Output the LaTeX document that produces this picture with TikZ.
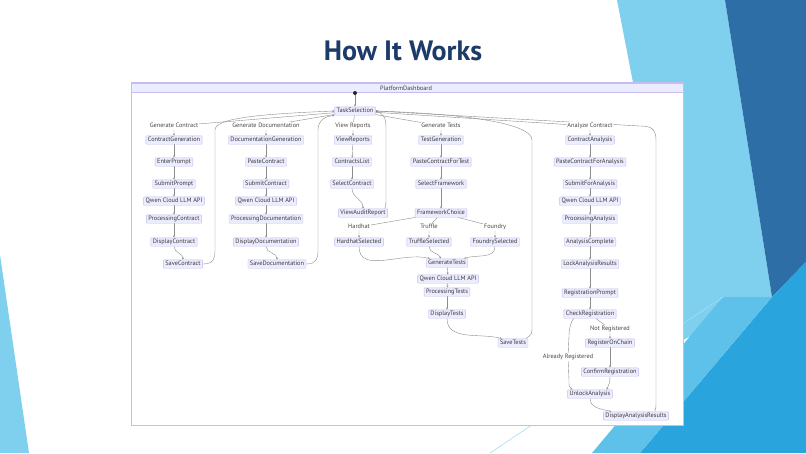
\documentclass[tikz,border=0pt]{standalone}
\usepackage{fontspec}
\setmainfont{PT Sans}
\usetikzlibrary{arrows.meta}

\definecolor{nodefill}{HTML}{ECECFF}
\definecolor{nodeline}{HTML}{C6BCEE}
\definecolor{edgegray}{HTML}{8C8C8C}
\definecolor{titleblue}{HTML}{1D3B68}
\definecolor{skylight}{HTML}{7FD0EE}
\definecolor{skydeep}{HTML}{2E6EA6}
\definecolor{skymid}{HTML}{29A4DC}
\definecolor{skypale}{HTML}{5DC1EA}

\pgfdeclarelayer{deco}
\pgfdeclarelayer{wires}
\pgfsetlayers{deco,wires,main}

\tikzset{
  state/.style={draw=nodeline, fill=nodefill, line width=0.4pt, rounded corners=0.6pt,
    inner xsep=2pt, inner ysep=1.4pt, text height=4.4pt, text depth=1.2pt,
    font=\fontsize{6.3}{7}\selectfont, text=black!78},
  edgelabel/.style={fill=white, inner sep=0.8pt, text height=4.4pt, text depth=1.2pt,
    font=\fontsize{6.3}{7}\selectfont, text=black!72},
  flow/.style={draw=edgegray, line width=0.4pt, -{Stealth[length=2.2pt,width=2pt]}},
}

\begin{document}
\begin{tikzpicture}[x=1pt,y=-1pt]
\useasboundingbox (0,0) rectangle (806,453);

% slide background and the dashboard frame
\begin{pgfonlayer}{deco}
  \fill[white] (0,0) rectangle (806,453);
  \fill[skylight] (0,255) -- (29,453) -- (0,453) -- cycle;
  \fill[skylight] (617,0) -- (725,0) -- (772,297) -- (683,340) -- cycle;
  \fill[skydeep] (725,0) -- (806,0) -- (806,262) -- (772,297) -- cycle;
  \fill[skymid] (772,297) -- (806,262) -- (806,453) -- (640,453) -- cycle;
  \fill[skypale] (723,297) -- (772,297) -- (640,453) -- (592,453) -- cycle;
  \draw[skylight!70, line width=0.6pt] (723,297) -- (490,453);
  \draw[nodeline, fill=white, line width=0.8pt] (131,82) rectangle (683,425);
  \filldraw[draw=nodeline, fill=nodefill, line width=0.5pt] (131,83) rectangle (683,92);
\end{pgfonlayer}

\node[font=\fontsize{28}{32}\selectfont\bfseries, text=titleblue] (title) at (403,51) {How It Works};
\node[font=\fontsize{6.3}{7}\selectfont, text=black!75] (dash) at (406,88) {PlatformDashboard};

\node[circle, fill=black!85, inner sep=0pt, minimum size=4pt] (start) at (355,93) {};
\node[state] (taskSel) at (355,111) {TaskSelection};

% branch labels
\node[edgelabel] (lGenContract) at (174,126) {Generate Contract};
\node[edgelabel] (lGenDoc) at (266,126) {Generate Documentation};
\node[edgelabel] (lViewRep) at (353,126) {View Reports};
\node[edgelabel] (lGenTests) at (441,126) {Generate Tests};
\node[edgelabel] (lAnalyze) at (590,126) {Analyze Contract};

% generate contract
\node[state] (contractGen) at (174,140) {ContractGeneration};
\node[state] (enterPrompt) at (174,162) {EnterPrompt};
\node[state] (submitPrompt) at (174,184) {SubmitPrompt};
\node[state] (qwenC) at (174,201) {Qwen Cloud LLM API};
\node[state] (procContract) at (174,219) {ProcessingContract};
\node[state] (dispContract) at (174,242) {DisplayContract};
\node[state] (saveContract) at (183,264) {SaveContract};

% generate documentation
\node[state] (docGen) at (266,140) {DocumentationGeneration};
\node[state] (pasteContract) at (266,162) {PasteContract};
\node[state] (submitContract) at (266,184) {SubmitContract};
\node[state] (qwenD) at (266,201) {Qwen Cloud LLM API};
\node[state] (procDoc) at (266,219) {ProcessingDocumentation};
\node[state] (dispDoc) at (266,242) {DisplayDocumentation};
\node[state] (saveDoc) at (277,264) {SaveDocumentation};

% view reports
\node[state] (viewReports) at (353,140) {ViewReports};
\node[state] (contractsList) at (352,162) {ContractsList};
\node[state] (selectContract) at (352,184) {SelectContract};
\node[state] (viewAudit) at (363,213) {ViewAuditReport};

% generate tests
\node[state] (testGen) at (441,140) {TestGeneration};
\node[state] (pasteTest) at (441,162) {PasteContractForTest};
\node[state] (selectFw) at (441,184) {SelectFramework};
\node[state] (fwChoice) at (441,213) {FrameworkChoice};
\node[edgelabel] (lHardhat) at (359,227) {Hardhat};
\node[edgelabel] (lTruffle) at (429,227) {Truffle};
\node[edgelabel] (lFoundry) at (495,227) {Foundry};
\node[state] (hardhatSel) at (359,242) {HardhatSelected};
\node[state] (truffleSel) at (429,242) {TruffleSelected};
\node[state] (foundrySel) at (495,242) {FoundrySelected};
\node[state] (genTests) at (447,263) {GenerateTests};
\node[state] (qwenT) at (448,279) {Qwen Cloud LLM API};
\node[state] (procTests) at (447,292) {ProcessingTests};
\node[state] (dispTests) at (447,314) {DisplayTests};
\node[state] (saveTests) at (513,343) {SaveTests};

% analyze contract
\node[state] (contractAn) at (590,140) {ContractAnalysis};
\node[state] (pasteAn) at (590,162) {PasteContractForAnalysis};
\node[state] (submitAn) at (590,184) {SubmitForAnalysis};
\node[state] (qwenA) at (590,201) {Qwen Cloud LLM API};
\node[state] (procAn) at (590,219) {ProcessingAnalysis};
\node[state] (anComplete) at (590,242) {AnalysisComplete};
\node[state] (lockRes) at (590,264) {LockAnalysisResults};
\node[state] (regPrompt) at (590,293) {RegistrationPrompt};
\node[state] (checkReg) at (590,314) {CheckRegistration};
\node[edgelabel] (lNotReg) at (610,329) {Not Registered};
\node[state] (regChain) at (610,343) {RegisterOnChain};
\node[edgelabel] (lAlready) at (568,357) {Already Registered};
\node[state] (confirmReg) at (610,372) {ConfirmRegistration};
\node[state] (unlockAn) at (590,394) {UnlockAnalysis};
\node[state] (dispAn) at (636,416) {DisplayAnalysisResults};

\begin{pgfonlayer}{wires}
  % straight steps
  \foreach \a/\b in {start/taskSel,
      contractGen/enterPrompt, enterPrompt/submitPrompt, submitPrompt/qwenC, qwenC/procContract, procContract/dispContract,
      docGen/pasteContract, pasteContract/submitContract, submitContract/qwenD, qwenD/procDoc, procDoc/dispDoc,
      viewReports/contractsList, contractsList/selectContract,
      testGen/pasteTest, pasteTest/selectFw, selectFw/fwChoice,
      genTests/qwenT, qwenT/procTests, procTests/dispTests,
      contractAn/pasteAn, pasteAn/submitAn, submitAn/qwenA, qwenA/procAn, procAn/anComplete,
      anComplete/lockRes, lockRes/regPrompt, regPrompt/checkReg, regChain/confirmReg}
    \draw[flow] (\a) -- (\b);

  % labelled branches
  \foreach \l/\b in {lGenContract/contractGen, lGenDoc/docGen, lViewRep/viewReports, lGenTests/testGen, lAnalyze/contractAn}
    \draw[flow] (taskSel) -- (\l.center) -- (\b);
  \foreach \l/\b in {lHardhat/hardhatSel, lTruffle/truffleSel, lFoundry/foundrySel}
    \draw[flow] (fwChoice) -- (\l.center) -- (\b);
  \draw[flow] (checkReg) -- (lNotReg.center) -- (regChain);
  \draw[flow] ([xshift=10pt]checkReg.south west) .. controls (571,322) and (569,328) .. (569,336)
    -- (lAlready.center) -- (569,380) .. controls (569,387) .. ([xshift=5pt]unlockAn.north west);

  % bends
  \draw[flow] (dispContract.south) to[out=-90,in=90] (saveContract.north);
  \draw[flow] (dispDoc.south) to[out=-90,in=90] (saveDoc.north);
  \draw[flow] (selectContract.south) to[out=-90,in=90] (viewAudit.north);
  \draw[flow] (hardhatSel.south) to[out=-90,in=165] ([xshift=4pt]genTests.north west);
  \draw[flow] (truffleSel.south) to[out=-90,in=115] ([xshift=-6pt]genTests.north);
  \draw[flow] (foundrySel.south) to[out=-90,in=20] ([xshift=-4pt]genTests.north east);
  \draw[flow] (dispTests.south) to[out=-90,in=165] ([xshift=4pt]saveTests.north west);
  \draw[flow] (confirmReg.south) to[out=-90,in=60] ([xshift=-6pt]unlockAn.north east);
  \draw[flow] (unlockAn.south) to[out=-90,in=165] ([xshift=8pt]dispAn.north west);

  % back to the task selection
  \draw[flow] (saveContract.east) .. controls (214,264) and (215,258) .. (215,250)
    -- (215,130) .. controls (215,118) and (260,114) .. (taskSel.west);
  \draw[flow] (saveDoc.east) .. controls (317,264) and (318,258) .. (318,250)
    -- (318,130) .. controls (318,120) and (326,116) .. (taskSel.south west);
  \draw[flow] ([xshift=-3pt]viewAudit.north east) .. controls (386,205) .. (386,196)
    -- (386,128) .. controls (386,118) and (384,114) .. (taskSel.east);
  \draw[flow] ([xshift=-2pt]saveTests.north east) .. controls (532,334) .. (532,326)
    -- (532,140) .. controls (532,124) and (470,114) .. (taskSel.east);
  \draw[flow] ([xshift=-14pt]dispAn.north east) .. controls (656,408) .. (656,400)
    -- (656,140) .. controls (656,128) and (650,126) .. (640,126) -- (taskSel.east);
\end{pgfonlayer}
\end{tikzpicture}
\end{document}
